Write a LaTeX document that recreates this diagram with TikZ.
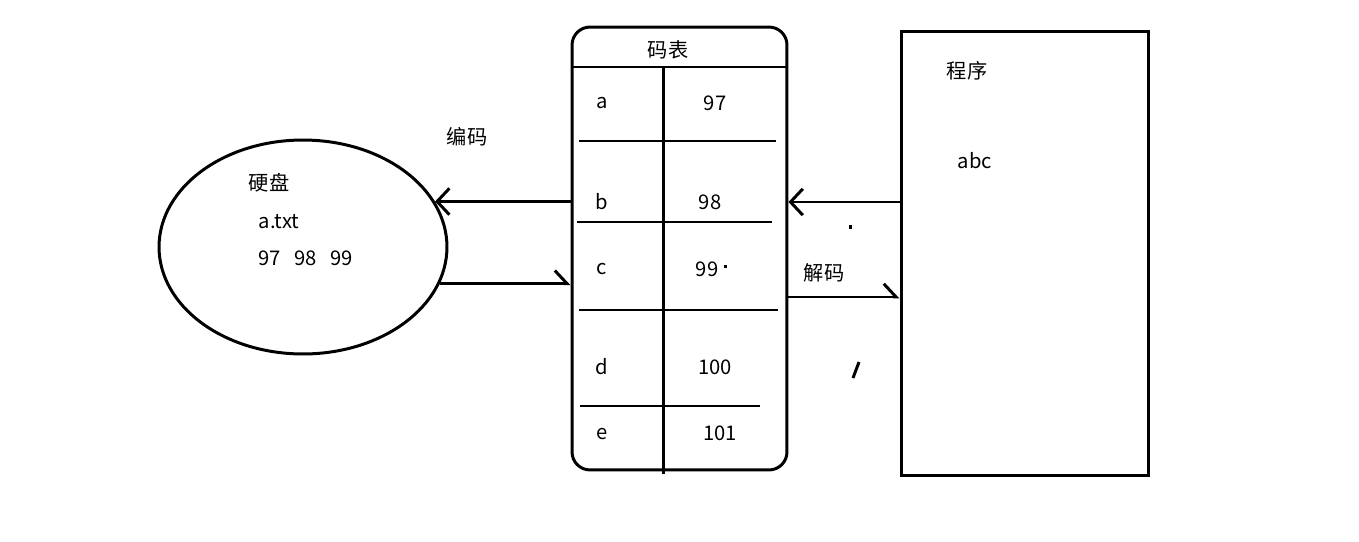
\documentclass[tikz,border=0pt]{standalone}
\usepackage{fontspec}
\setmainfont{Noto Sans CJK SC}
\usetikzlibrary{arrows.meta}
\usetikzlibrary{shapes.geometric}

\begin{document}
\begin{tikzpicture}[x=0.02cm, y=-0.02cm, line width=1.7pt,
    >={Straight Barb[length=7pt,width=15pt]},
    every node/.style={font=\fontsize{11.5pt}{13pt}\selectfont, inner sep=0pt},
    box/.style={draw, rectangle, inner sep=0pt}]
    \useasboundingbox (0,0) rectangle (1359,541);
    % hard disk
    \node[draw, ellipse, minimum width=5.76cm, minimum height=4.28cm] (disk) at (303,247) {};
    \node (diskname) at (269,183) {硬盘};
    \node (file) at (279,222) {a.txt};
    \node[anchor=west] (bytes) at (257,258) {97\ \ \ 98\ \ \ 99};
    % code table
    \node[box, rounded corners=0.36cm, minimum width=4.3cm, minimum height=8.86cm] (table) at (679.5,248.5) {};
    \node (tabname) at (668,50) {码表};
    \draw (572,67)--(787,67);
    \draw (663,67)--(663,474);
    \draw (579,141)--(776,141);
    \draw (577,222)--(772,222);
    \draw (579,310)--(778,310);
    \draw (580,406)--(760,406);
    \node (ka) at (602,103) {a};
    \node (kb) at (602,202) {b};
    \node (kc) at (602,269) {c};
    \node (kd) at (602,367) {d};
    \node (ke) at (602,434) {e};
    \node (va) at (715,103) {97};
    \node (vb) at (710,202) {98};
    \node (vc) at (707,269) {99};
    \node (vd) at (715,367) {100};
    \node (ve) at (720,433) {101};
    % program
    \node[box, minimum width=4.96cm, minimum height=8.9cm] (prog) at (1025,253.5) {};
    \node (progname) at (967,71) {程序};
    \node (text) at (975,161) {abc};
    % encode / decode
    \node (enc) at (467,137) {编码};
    \node (dec) at (824,273) {解码};
    \coordinate (decline) at (845,297);
    \draw[->] (table.west |- disk.19) -- (disk.19);
    \draw[-{Straight Barb[length=7pt,width=15pt,left]}] (disk.-15) -- (table.west |- disk.-15);
    \draw[->] (prog.west |- kb) -- (table.east |- kb);
    \draw[-{Straight Barb[length=7pt,width=15pt,left]}] (table.east |- decline) -- (prog.west |- decline);
    % stray marks
    \fill (723.5,264.5) rectangle (727,268);
    \fill (848.5,225) rectangle (852,229);
    \draw (853,378)--(859,362);
\end{tikzpicture}
\end{document}
